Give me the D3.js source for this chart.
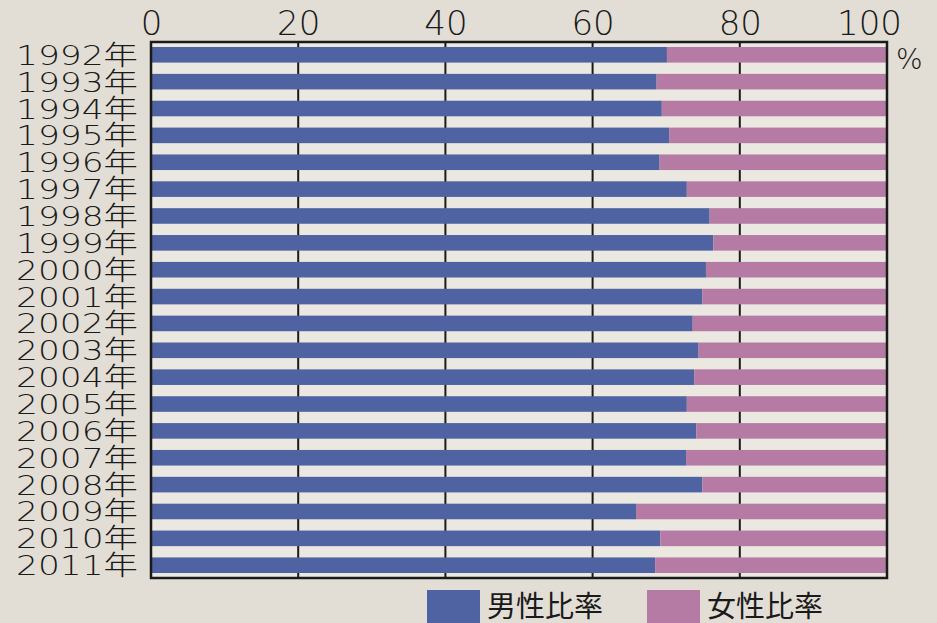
<!DOCTYPE html>
<html>
<head>
<meta charset="utf-8">
<script src="https://cdn.jsdelivr.net/npm/d3@7"></script>
<style>
  html, body { margin: 0; padding: 0; background: #e2ded5; overflow: hidden; }
  svg { display: block; }
</style>
</head>
<body>
<svg id="chart" width="937" height="623"></svg>
<script>
// Data
const years = ['1992', '1993', '1994', '1995', '1996', '1997', '1998', '1999', '2000', '2001',
  '2002', '2003', '2004', '2005', '2006', '2007', '2008', '2009', '2010', '2011'];
const maleRatio = [70.1, 68.7, 69.4, 70.4, 69.1, 72.8, 75.9, 76.4, 75.4, 74.9,
  73.6, 74.4, 73.8, 72.8, 74.1, 72.7, 74.9, 65.9, 69.2, 68.5];
const xTicks = [0, 20, 40, 60, 80, 100];
const seriesNames = ['男性比率', '女性比率'];

const COLORS = { male: '#4f62a1', female: '#b57ba4', gap: '#eae8e1', bg: '#e2ded5', ink: '#1a1a1a' };
const FONT = '"DejaVu Sans", "Noto Sans CJK JP", sans-serif';

const svg = d3.select('#chart');
const frame = { left: 151, right: 887, top: 42, bottom: 578 };

const x = d3.scaleLinear().domain([0, 100]).range([frame.left, frame.right]);
const y = d3.scaleBand().domain(years).range([frame.top, frame.bottom])
  .paddingInner(0.42).paddingOuter(0.186);

const rows = years.map((yr, i) => ({ year: yr, male: maleRatio[i], female: 100 - maleRatio[i] }));

// plot background
svg.append('rect')
  .attr('x', frame.left).attr('y', frame.top)
  .attr('width', frame.right - frame.left).attr('height', frame.bottom - frame.top)
  .attr('fill', COLORS.gap);

// vertical grid lines (under the bars)
svg.append('g')
  .selectAll('line')
  .data(xTicks.slice(1, -1))
  .join('line')
  .attr('x1', (d) => x(d)).attr('x2', (d) => x(d))
  .attr('y1', frame.top).attr('y2', frame.bottom)
  .attr('stroke', COLORS.ink).attr('stroke-width', 2);

// stacked bars
const bars = svg.append('g');
bars.selectAll('.male')
  .data(rows)
  .join('rect')
  .attr('class', 'male')
  .attr('x', x(0))
  .attr('y', (d) => y(d.year))
  .attr('width', (d) => x(d.male) - x(0))
  .attr('height', y.bandwidth())
  .attr('fill', COLORS.male);

bars.selectAll('.female')
  .data(rows)
  .join('rect')
  .attr('class', 'female')
  .attr('x', (d) => x(d.male))
  .attr('y', (d) => y(d.year))
  .attr('width', (d) => x(100) - x(d.male))
  .attr('height', y.bandwidth())
  .attr('fill', COLORS.female);

// frame
svg.append('rect')
  .attr('x', frame.left).attr('y', frame.top)
  .attr('width', frame.right - frame.left).attr('height', frame.bottom - frame.top)
  .attr('fill', 'none')
  .attr('stroke', COLORS.ink).attr('stroke-width', 2.5);

// top axis labels
const xAxis = d3.axisTop(x).tickValues(xTicks).tickSize(0).tickPadding(7);
const axisG = svg.append('g')
  .attr('transform', `translate(0,${frame.top})`)
  .call(xAxis);
axisG.select('.domain').remove();
axisG.selectAll('text')
  .attr('font-family', FONT)
  .attr('font-size', 34)
  .attr('font-weight', 200)
  .attr('fill', COLORS.ink)
  .attr('dx', (d) => (d === 100 ? -18 : 0));

// % unit
svg.append('text')
  .attr('x', 896).attr('y', 69)
  .attr('font-family', FONT).attr('font-size', 28).attr('font-weight', 200)
  .attr('fill', COLORS.ink)
  .text('%');

// year labels
svg.append('g')
  .selectAll('text')
  .data(years)
  .join('text')
  .attr('x', 138)
  .attr('y', (d) => y(d) + y.bandwidth() / 2 + 10)
  .attr('text-anchor', 'end')
  .attr('font-family', FONT)
  .attr('font-size', 27)
  .attr('font-weight', 200)
  .attr('fill', COLORS.ink)
  .attr('textLength', 122)
  .attr('lengthAdjust', 'spacingAndGlyphs')
  .text((d) => d + '年');

// legend
const legendItems = [
  { name: seriesNames[0], color: COLORS.male, x: 427 },
  { name: seriesNames[1], color: COLORS.female, x: 647 },
];
const legend = svg.append('g');
legend.selectAll('rect')
  .data(legendItems)
  .join('rect')
  .attr('x', (d) => d.x).attr('y', 590)
  .attr('width', 53).attr('height', 40)
  .attr('fill', (d) => d.color);
legend.selectAll('text')
  .data(legendItems)
  .join('text')
  .attr('x', (d) => d.x + 60).attr('y', 617)
  .attr('font-family', '"Noto Sans CJK JP", sans-serif')
  .attr('font-size', 29)
  .attr('fill', COLORS.ink)
  .text((d) => d.name);
</script>
</body>
</html>
